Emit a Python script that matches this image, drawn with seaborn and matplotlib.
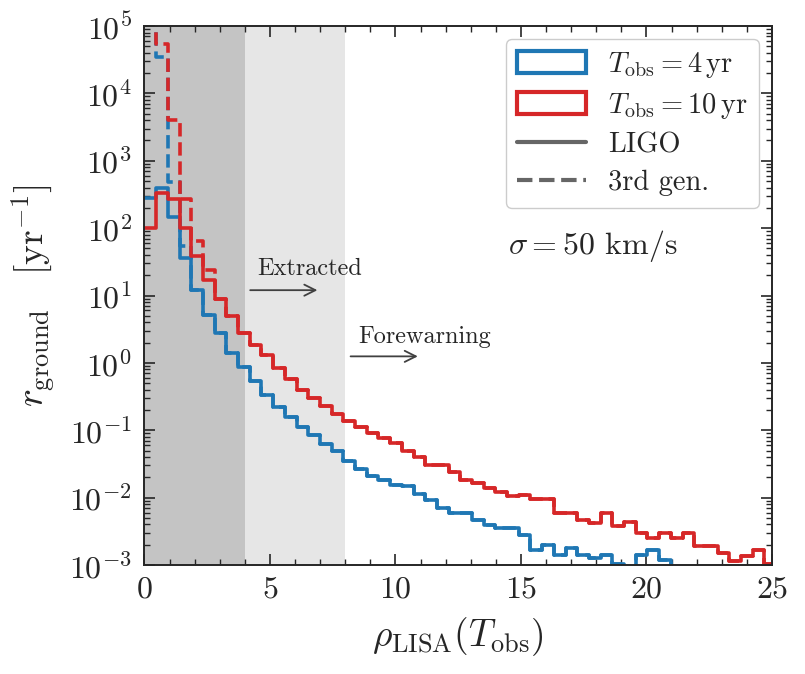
import numpy as np
import pandas as pd
import seaborn as sns
import matplotlib.pyplot as plt
from matplotlib.patches import Patch
from matplotlib.lines import Line2D
from matplotlib.ticker import LogLocator, MultipleLocator, NullFormatter

# histogram bins in rho_LISA (uniform width, starting at 0)
bin_width = 0.466
n_bins = 54

# ground rates per bin [1/yr]
rate_4yr_ligo = [280, 400, 148, 36, 12, 5.2, 2.75, 1.42, 0.86, 0.53,
                 0.335, 0.225, 0.16, 0.113, 0.085, 0.063, 0.05, 0.035, 0.027, 0.021,
                 0.0185, 0.0155, 0.015, 0.0112, 0.0093, 0.007, 0.0059, 0.0059, 0.0047, 0.0039,
                 0.0035, 0.0035, 0.0028, 0.00168, 0.002, 0.00142, 0.00178, 0.00142, 0.00126, 0.00142,
                 0.00102, 0, 0.00142, 0.00168, 0.00119, 0, 0, 0, 0, 0,
                 0, 0, 0, 0]
rate_10yr_ligo = [100, 330, 270, 100, 38, 17, 9.0, 4.9, 2.75, 1.85,
                  1.3, 0.85, 0.57, 0.40, 0.30, 0.23, 0.175, 0.135, 0.11, 0.092,
                  0.076, 0.064, 0.05, 0.04, 0.031, 0.03, 0.0244, 0.0184, 0.0164, 0.0138,
                  0.0123, 0.0104, 0.0108, 0.0095, 0.0095, 0.0059, 0.0059, 0.0046, 0.0042, 0.0059,
                  0.0038, 0.0044, 0.003, 0.0025, 0.003, 0.0025, 0.003, 0.0019, 0.0019, 0.0015,
                  0.00113, 0.00134, 0.00168, 0.00104]
rate_4yr_3g = [2e5, 3.5e4, 490, 54, 12, 5.2, 2.75, 1.42, 0.86, 0.53,
               0.335, 0.225, 0.16, 0.113, 0.085, 0.063, 0.05, 0.035, 0.027, 0.021,
               0.0185, 0.0155, 0.015, 0.0112, 0.0093, 0.007, 0.0059, 0.0059, 0.0047, 0.0039,
               0.0035, 0.0035, 0.0028, 0.00168, 0.002, 0.00142, 0.00178, 0.00142, 0.00126, 0.00142,
               0.00102, 0, 0.00142, 0.00168, 0.00119, 0, 0, 0, 0, 0,
               0, 0, 0, 0]
rate_10yr_3g = [2e5, 5.5e4, 4000, 270, 65, 24, 9.0, 4.9, 2.75, 1.85,
                1.3, 0.85, 0.57, 0.40, 0.30, 0.23, 0.175, 0.135, 0.11, 0.092,
                0.076, 0.064, 0.05, 0.04, 0.031, 0.03, 0.0244, 0.0184, 0.0164, 0.0138,
                0.0123, 0.0104, 0.0108, 0.0095, 0.0095, 0.0059, 0.0059, 0.0046, 0.0042, 0.0059,
                0.0038, 0.0044, 0.003, 0.0025, 0.003, 0.0025, 0.003, 0.0019, 0.0019, 0.0015,
                0.00113, 0.00134, 0.00168, 0.00104]

edges = np.arange(n_bins + 1) * bin_width
centers = edges[:-1] + bin_width / 2

blue = '#1f77b4'
red = '#d62728'

sns.set_style('ticks')
plt.rcParams['font.family'] = 'serif'
plt.rcParams['font.serif'] = ['cmr10']
plt.rcParams['mathtext.fontset'] = 'cm'
plt.rcParams['axes.formatter.use_mathtext'] = True
plt.rcParams['axes.unicode_minus'] = False

fig = plt.figure(figsize=(8.05, 6.74), dpi=100)
ax = fig.add_axes([0.1795, 0.1617, 0.7795, 0.7997])

# shaded regions
ax.axvspan(0, 4, color='0.77', lw=0, zorder=0)
ax.axvspan(4, 8, color='0.9', lw=0, zorder=0)

# dashed (3rd gen.) first, solid (LIGO) on top
for vals, col, ls in [(rate_4yr_3g, blue, '--'), (rate_10yr_3g, red, '--'),
                      (rate_4yr_ligo, blue, '-'), (rate_10yr_ligo, red, '-')]:
    df = pd.DataFrame({'rho': centers, 'rate': vals})
    sns.histplot(data=df, x='rho', weights='rate', bins=list(edges), element='step',
                 fill=False, color=col, linestyle=ls, linewidth=2.6, ax=ax)

ax.set_yscale('log')
ax.set_xlim(0, 25)
ax.set_ylim(1e-3, 1e5)

ax.yaxis.set_major_locator(LogLocator(base=10, numticks=20))
ax.yaxis.set_minor_locator(LogLocator(base=10, subs=np.arange(2, 10), numticks=20))
ax.yaxis.set_minor_formatter(NullFormatter())
ax.xaxis.set_major_locator(MultipleLocator(5))
ax.xaxis.set_minor_locator(MultipleLocator(1))
ax.tick_params(which='both', direction='in', top=True, right=True, labelsize=23)
ax.tick_params(which='major', length=8, width=1.2)
ax.tick_params(which='minor', length=4, width=1.0)
ax.tick_params(axis='y', which='major', pad=9)
ax.tick_params(axis='x', which='major', pad=8)
for s in ax.spines.values():
    s.set_linewidth(1.4)

ax.set_xlabel(r'$\rho_{\rm LISA}(T_{\rm obs})$', fontsize=27, labelpad=8)
ax.set_ylabel(r'$r_{\rm ground}\quad[{\rm yr}^{-1}]$', fontsize=27, labelpad=8)

# annotations
ax.annotate('', xy=(7.0, 12), xytext=(4.1, 12),
            arrowprops=dict(arrowstyle='->', color='0.25', lw=1.3, mutation_scale=20))
ax.text(4.5, 20, 'Extracted', fontsize=17.5)
ax.annotate('', xy=(11.0, 1.25), xytext=(8.1, 1.25),
            arrowprops=dict(arrowstyle='->', color='0.25', lw=1.3, mutation_scale=20))
ax.text(8.5, 2.0, 'Forewarning', fontsize=17.5)
ax.text(14.5, 42, r'$\sigma = 50$ km/s', fontsize=23)

handles = [Patch(facecolor='white', edgecolor=blue, linewidth=3),
           Patch(facecolor='white', edgecolor=red, linewidth=3),
           Line2D([], [], color='0.4', lw=3),
           Line2D([], [], color='0.4', lw=3, ls='--')]
labels = [r'$T_{\rm obs} = 4\,{\rm yr}$', r'$T_{\rm obs} = 10\,{\rm yr}$',
          'LIGO', '3rd gen.']
ax.legend(handles, labels, loc='upper right', fontsize=20.5, frameon=True,
          handlelength=2.4, handleheight=0.8, handletextpad=0.8, labelspacing=0.38,
          borderaxespad=0.45, framealpha=1, edgecolor='0.8')

fig.savefig('out.png', dpi=100)
